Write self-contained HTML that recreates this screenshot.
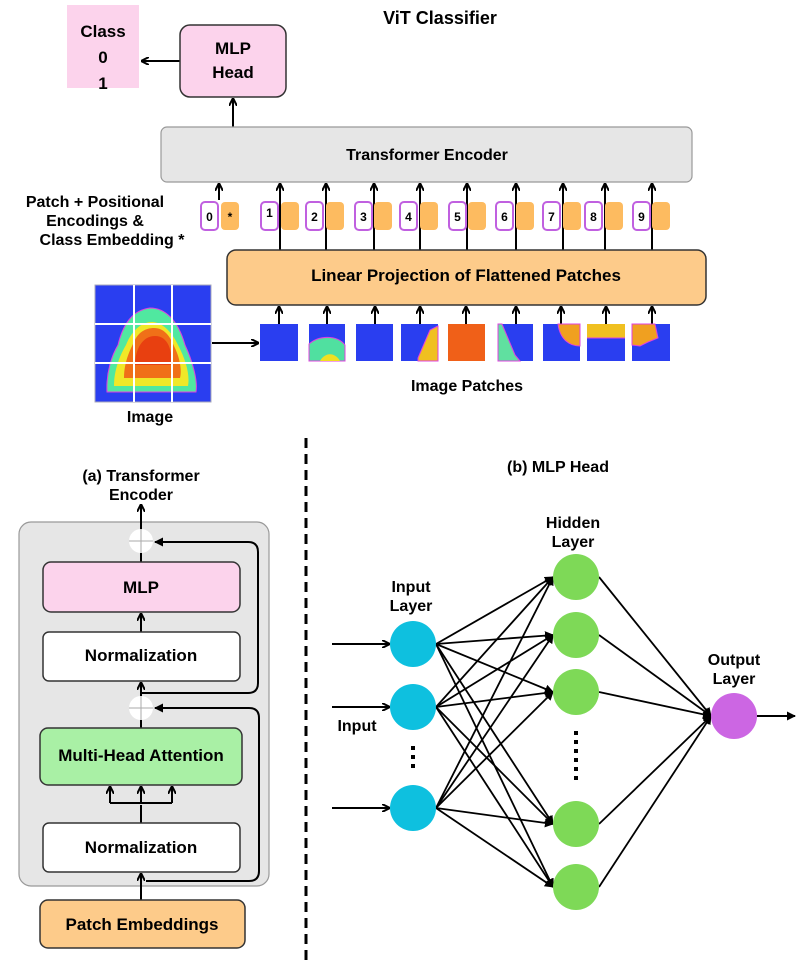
<!DOCTYPE html>
<html><head><meta charset="utf-8"><style>
body{margin:0;background:#fff}
svg{display:block;font-family:"Liberation Sans",Arial,sans-serif;font-weight:bold}
</style></head><body>
<svg width="803" height="968" viewBox="0 0 803 968" xmlns="http://www.w3.org/2000/svg">
<defs>
<marker id="a" markerWidth="8" markerHeight="8" refX="7" refY="4" orient="auto" markerUnits="userSpaceOnUse"><path d="M0,0 L8,4 L0,8" fill="none" stroke="#000" stroke-width="2"/></marker>
<marker id="f" markerWidth="9" markerHeight="9" refX="8" refY="4.5" orient="auto" markerUnits="userSpaceOnUse"><path d="M0,0 L9,4.5 L0,9 Z" fill="#000"/></marker>
</defs>
<text x="440" y="24" font-size="18" text-anchor="middle">ViT Classifier</text>
<rect x="67" y="5" width="72" height="83" fill="#fcd3ec"/>
<text x="103" y="37" font-size="17" text-anchor="middle">Class</text>
<text x="103" y="63" font-size="17" text-anchor="middle">0</text>
<text x="103" y="89" font-size="17" text-anchor="middle">1</text>
<line x1="180" y1="61" x2="142" y2="61" stroke="#000" stroke-width="2" marker-end="url(#a)"/>
<rect x="180" y="25" width="106" height="72" rx="10" fill="#fcd3ec" stroke="#333" stroke-width="1.5"/>
<text x="233" y="54" font-size="17" text-anchor="middle">MLP</text>
<text x="233" y="78" font-size="17" text-anchor="middle">Head</text>
<line x1="233" y1="127" x2="233" y2="99" stroke="#000" stroke-width="2" marker-end="url(#a)"/>
<rect x="161" y="127" width="531" height="55" rx="6" fill="#e6e6e6" stroke="#999" stroke-width="1.2"/>
<text x="427" y="160" font-size="16" text-anchor="middle">Transformer Encoder</text>
<text x="95" y="207" font-size="16" text-anchor="middle">Patch + Positional</text>
<text x="95" y="226" font-size="16" text-anchor="middle">Encodings &amp;</text>
<text x="112" y="245" font-size="16" text-anchor="middle">Class Embedding *</text>
<g stroke="#000" stroke-width="2" fill="none">
<line x1="219" y1="200" x2="219" y2="184" marker-end="url(#a)"/>
<line x1="280" y1="250" x2="280" y2="184" marker-end="url(#a)"/>
<line x1="326" y1="250" x2="326" y2="184" marker-end="url(#a)"/>
<line x1="374" y1="250" x2="374" y2="184" marker-end="url(#a)"/>
<line x1="420" y1="250" x2="420" y2="184" marker-end="url(#a)"/>
<line x1="467" y1="250" x2="467" y2="184" marker-end="url(#a)"/>
<line x1="516" y1="250" x2="516" y2="184" marker-end="url(#a)"/>
<line x1="563" y1="250" x2="563" y2="184" marker-end="url(#a)"/>
<line x1="605" y1="250" x2="605" y2="184" marker-end="url(#a)"/>
<line x1="652" y1="250" x2="652" y2="184" marker-end="url(#a)"/>
</g>
<g font-size="12" text-anchor="middle">
<rect x="201" y="202" width="17" height="28" rx="4" fill="#fff" stroke="#c060e0" stroke-width="2"/><text x="209.5" y="221">0</text>
<rect x="221" y="202" width="18" height="28" rx="4" fill="#fdbb60"/><text x="230" y="221">*</text>
<rect x="261" y="202" width="17" height="28" rx="4" fill="#fff" stroke="#c060e0" stroke-width="2"/><text x="269.5" y="217">1</text><rect x="281" y="202" width="18" height="28" rx="4" fill="#fdbb60"/>
<rect x="306" y="202" width="17" height="28" rx="4" fill="#fff" stroke="#c060e0" stroke-width="2"/><text x="314.5" y="221">2</text><rect x="326" y="202" width="18" height="28" rx="4" fill="#fdbb60"/>
<rect x="355" y="202" width="17" height="28" rx="4" fill="#fff" stroke="#c060e0" stroke-width="2"/><text x="363.5" y="221">3</text><rect x="374" y="202" width="18" height="28" rx="4" fill="#fdbb60"/>
<rect x="400" y="202" width="17" height="28" rx="4" fill="#fff" stroke="#c060e0" stroke-width="2"/><text x="408.5" y="221">4</text><rect x="420" y="202" width="18" height="28" rx="4" fill="#fdbb60"/>
<rect x="449" y="202" width="17" height="28" rx="4" fill="#fff" stroke="#c060e0" stroke-width="2"/><text x="457.5" y="221">5</text><rect x="468" y="202" width="18" height="28" rx="4" fill="#fdbb60"/>
<rect x="496" y="202" width="17" height="28" rx="4" fill="#fff" stroke="#c060e0" stroke-width="2"/><text x="504.5" y="221">6</text><rect x="516" y="202" width="18" height="28" rx="4" fill="#fdbb60"/>
<rect x="543" y="202" width="17" height="28" rx="4" fill="#fff" stroke="#c060e0" stroke-width="2"/><text x="551.5" y="221">7</text><rect x="563" y="202" width="18" height="28" rx="4" fill="#fdbb60"/>
<rect x="585" y="202" width="17" height="28" rx="4" fill="#fff" stroke="#c060e0" stroke-width="2"/><text x="593.5" y="221">8</text><rect x="605" y="202" width="18" height="28" rx="4" fill="#fdbb60"/>
<rect x="633" y="202" width="17" height="28" rx="4" fill="#fff" stroke="#c060e0" stroke-width="2"/><text x="641.5" y="221">9</text><rect x="652" y="202" width="18" height="28" rx="4" fill="#fdbb60"/>
</g>
<rect x="227" y="250" width="479" height="55" rx="9" fill="#fdcb8a" stroke="#333" stroke-width="1.5"/>
<text x="466" y="281" font-size="17" text-anchor="middle">Linear Projection of Flattened Patches</text>
<!-- image -->
<rect x="95" y="285" width="116" height="117" fill="#2a3ef0" stroke="#aab" stroke-width="1"/>
<path d="M107,392 C106,372 112,355 118,345 C124,320 135,310 150,308 C165,308 178,320 185,345 C192,360 198,380 196,392 Z" fill="#50e8a0" stroke="#e040e0" stroke-width="1"/>
<path d="M114,386 C114,370 120,355 126,345 C132,330 142,322 152,322 C162,322 172,332 178,345 C186,360 190,375 188,386 Z" fill="#f0e828"/>
<path d="M124,378 C124,362 130,350 134,342 C138,332 146,328 154,328 C164,328 170,336 174,346 C180,358 182,370 180,378 Z" fill="#f07018"/>
<path d="M135,365 C135,350 142,336 155,336 C168,336 172,350 172,365 Z" fill="#e84010"/>
<g stroke="#fff" stroke-width="2"><line x1="134" y1="285" x2="134" y2="402"/><line x1="172" y1="285" x2="172" y2="402"/><line x1="95" y1="324" x2="211" y2="324"/><line x1="95" y1="363" x2="211" y2="363"/></g>
<line x1="212" y1="343" x2="258" y2="343" stroke="#000" stroke-width="2" marker-end="url(#a)"/>
<!-- patches -->
<g stroke="#000" stroke-width="2">
<line x1="279" y1="324" x2="279" y2="307" marker-end="url(#a)"/><line x1="327" y1="324" x2="327" y2="307" marker-end="url(#a)"/><line x1="375" y1="324" x2="375" y2="307" marker-end="url(#a)"/><line x1="420" y1="324" x2="420" y2="307" marker-end="url(#a)"/><line x1="466" y1="324" x2="466" y2="307" marker-end="url(#a)"/><line x1="516" y1="324" x2="516" y2="307" marker-end="url(#a)"/><line x1="561" y1="324" x2="561" y2="307" marker-end="url(#a)"/><line x1="606" y1="324" x2="606" y2="307" marker-end="url(#a)"/><line x1="652" y1="324" x2="652" y2="307" marker-end="url(#a)"/>
</g>
<rect x="260" y="324" width="38" height="37" fill="#2a3ef0"/>
<rect x="309" y="324" width="36" height="37" fill="#2a3ef0"/><path d="M309,344 C318,336 336,334 345,345 L345,361 L309,361 Z" fill="#50e0a0" stroke="#e040e0"/><path d="M320,361 C325,352 335,352 340,361Z" fill="#f0e020"/>
<rect x="356" y="324" width="37" height="37" fill="#2a3ef0"/>
<rect x="401" y="324" width="37" height="37" fill="#2a3ef0"/><path d="M438,326 L430,330 L418,358 L418,361 L438,361Z" fill="#f0c020" stroke="#e040e0"/>
<rect x="448" y="324" width="37" height="37" fill="#f06018"/>
<rect x="498" y="324" width="35" height="37" fill="#2a3ef0"/><path d="M498,324 L502,324 L515,355 L520,361 L498,361Z" fill="#60e0a0" stroke="#e040e0"/>
<rect x="543" y="324" width="37" height="37" fill="#2a3ef0"/><path d="M558,324 L580,324 L580,346 C570,346 560,340 558,324Z" fill="#f0a020" stroke="#e040e0"/>
<rect x="587" y="324" width="38" height="37" fill="#2a3ef0"/><rect x="587" y="324" width="38" height="14" fill="#f0c020"/><line x1="587" y1="338" x2="625" y2="338" stroke="#e040e0"/>
<rect x="632" y="324" width="38" height="37" fill="#2a3ef0"/><path d="M632,324 L655,324 L658,338 L648,342 L640,346 L632,345Z" fill="#f0a020" stroke="#e040e0"/>
<text x="467" y="391" font-size="16" text-anchor="middle">Image Patches</text>
<text x="150" y="422" font-size="16" text-anchor="middle">Image</text>
<line x1="306" y1="438" x2="306" y2="966" stroke="#000" stroke-width="3" stroke-dasharray="10,6"/>
<!-- transformer encoder detail -->
<text x="141" y="481" font-size="16" text-anchor="middle">(a) Transformer</text>
<text x="141" y="500" font-size="16" text-anchor="middle">Encoder</text>
<rect x="19" y="522" width="250" height="364" rx="12" fill="#e6e6e6" stroke="#999" stroke-width="1.2"/>
<g stroke="#000" stroke-width="2" fill="none">
<line x1="141" y1="530" x2="141" y2="505" marker-end="url(#a)"/>
<line x1="141" y1="562" x2="141" y2="553"/>
<line x1="141" y1="632" x2="141" y2="614" marker-end="url(#a)"/>
<line x1="141" y1="720" x2="141" y2="728"/>
<line x1="141" y1="696" x2="141" y2="683" marker-end="url(#a)"/>
<path d="M141,693 L248,693 Q258,693 258,683 L258,552 Q258,542 248,542 L155,542" marker-end="url(#f)"/>
<path d="M146,881 L249,881 Q259,881 259,871 L259,718 Q259,708 249,708 L155,708" marker-end="url(#f)"/>
<line x1="141" y1="823" x2="141" y2="805"/>
<line x1="110" y1="803" x2="172" y2="803"/>
<line x1="110" y1="803" x2="110" y2="787" marker-end="url(#a)"/>
<line x1="141" y1="803" x2="141" y2="787" marker-end="url(#a)"/>
<line x1="172" y1="803" x2="172" y2="787" marker-end="url(#a)"/>
<line x1="141" y1="900" x2="141" y2="874" marker-end="url(#a)"/>
</g>
<circle cx="141" cy="541" r="12" fill="#fff"/><line x1="129" y1="541" x2="153" y2="541" stroke="#aaa"/><line x1="141" y1="529" x2="141" y2="553" stroke="#aaa"/>
<circle cx="141" cy="708" r="12" fill="#fff"/><line x1="129" y1="708" x2="153" y2="708" stroke="#aaa"/><line x1="141" y1="696" x2="141" y2="720" stroke="#aaa"/>
<rect x="43" y="562" width="197" height="50" rx="8" fill="#fcd3ec" stroke="#333" stroke-width="1.5"/>
<text x="141" y="593" font-size="17" text-anchor="middle">MLP</text>
<rect x="43" y="632" width="197" height="49" rx="6" fill="#fff" stroke="#333" stroke-width="1.5"/>
<text x="141" y="661" font-size="17" text-anchor="middle">Normalization</text>
<rect x="40" y="728" width="202" height="57" rx="8" fill="#a9f0a5" stroke="#333" stroke-width="1.5"/>
<text x="141" y="761" font-size="17" text-anchor="middle">Multi-Head Attention</text>
<rect x="43" y="823" width="197" height="49" rx="6" fill="#fff" stroke="#333" stroke-width="1.5"/>
<text x="141" y="853" font-size="17" text-anchor="middle">Normalization</text>
<rect x="40" y="900" width="205" height="48" rx="8" fill="#fdcb8a" stroke="#333" stroke-width="1.5"/>
<text x="142" y="930" font-size="17" text-anchor="middle">Patch Embeddings</text>
<!-- MLP head -->
<text x="558" y="472" font-size="16" text-anchor="middle">(b) MLP Head</text>
<text x="573" y="528" font-size="16" text-anchor="middle">Hidden</text>
<text x="573" y="547" font-size="16" text-anchor="middle">Layer</text>
<text x="411" y="592" font-size="16" text-anchor="middle">Input</text>
<text x="411" y="611" font-size="16" text-anchor="middle">Layer</text>
<text x="734" y="665" font-size="16" text-anchor="middle">Output</text>
<text x="734" y="684" font-size="16" text-anchor="middle">Layer</text>
<text x="357" y="731" font-size="16" text-anchor="middle">Input</text>
<g stroke="#000" stroke-width="2" fill="none">
<line x1="332" y1="644" x2="389" y2="644" marker-end="url(#a)"/>
<line x1="332" y1="707" x2="389" y2="707" marker-end="url(#a)"/>
<line x1="332" y1="808" x2="389" y2="808" marker-end="url(#a)"/>
<line x1="757" y1="716" x2="795" y2="716" marker-end="url(#f)"/>
</g>
<g stroke="#000" stroke-width="1.8">
<line x1="436" y1="644" x2="553" y2="577" marker-end="url(#f)"/><line x1="436" y1="644" x2="553" y2="635" marker-end="url(#f)"/><line x1="436" y1="644" x2="553" y2="692" marker-end="url(#f)"/><line x1="436" y1="644" x2="553" y2="824" marker-end="url(#f)"/><line x1="436" y1="644" x2="553" y2="887" marker-end="url(#f)"/>
<line x1="436" y1="707" x2="553" y2="577" marker-end="url(#f)"/><line x1="436" y1="707" x2="553" y2="635" marker-end="url(#f)"/><line x1="436" y1="707" x2="553" y2="692" marker-end="url(#f)"/><line x1="436" y1="707" x2="553" y2="824" marker-end="url(#f)"/><line x1="436" y1="707" x2="553" y2="887" marker-end="url(#f)"/>
<line x1="436" y1="808" x2="553" y2="577" marker-end="url(#f)"/><line x1="436" y1="808" x2="553" y2="635" marker-end="url(#f)"/><line x1="436" y1="808" x2="553" y2="692" marker-end="url(#f)"/><line x1="436" y1="808" x2="553" y2="824" marker-end="url(#f)"/><line x1="436" y1="808" x2="553" y2="887" marker-end="url(#f)"/>
<line x1="599" y1="577" x2="711" y2="716" marker-end="url(#f)"/><line x1="599" y1="635" x2="711" y2="716" marker-end="url(#f)"/><line x1="599" y1="692" x2="711" y2="716" marker-end="url(#f)"/><line x1="599" y1="824" x2="711" y2="716" marker-end="url(#f)"/><line x1="599" y1="887" x2="711" y2="716" marker-end="url(#f)"/>
</g>
<g fill="#0ec0df"><circle cx="413" cy="644" r="23"/><circle cx="413" cy="707" r="23"/><circle cx="413" cy="808" r="23"/></g>
<g fill="#7ed957"><circle cx="576" cy="577" r="23"/><circle cx="576" cy="635" r="23"/><circle cx="576" cy="692" r="23"/><circle cx="576" cy="824" r="23"/><circle cx="576" cy="887" r="23"/></g>
<circle cx="734" cy="716" r="23" fill="#cc66e3"/>
<g fill="#000"><rect x="411" y="746" width="4" height="4"/><rect x="411" y="755" width="4" height="4"/><rect x="411" y="764" width="4" height="4"/>
<rect x="574" y="731" width="4" height="4"/><rect x="574" y="740" width="4" height="4"/><rect x="574" y="749" width="4" height="4"/><rect x="574" y="758" width="4" height="4"/><rect x="574" y="767" width="4" height="4"/><rect x="574" y="776" width="4" height="4"/></g>
</svg>
</body></html>
